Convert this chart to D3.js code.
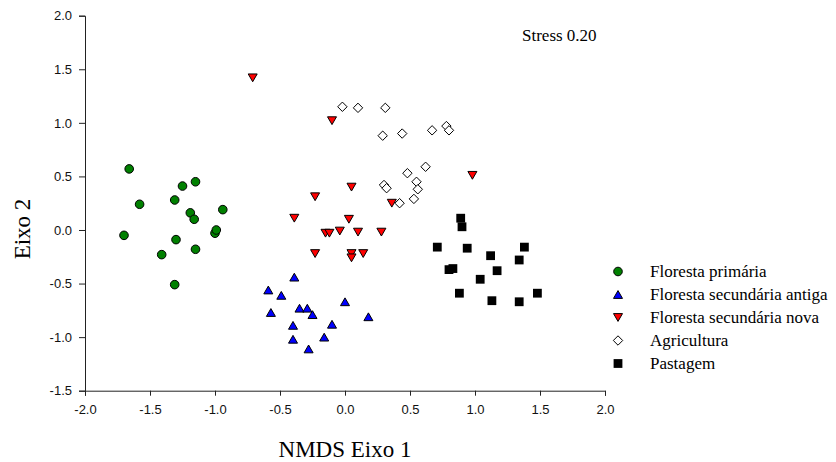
<!DOCTYPE html>
<html>
<head>
<meta charset="utf-8">
<script src="https://cdn.jsdelivr.net/npm/d3@7"></script>
<style>
  body { margin: 0; background: #fff; }
  svg { display: block; }
</style>
</head>
<body>
<div id="nmds"></div>
<script>
// NMDS scores (eixo 1, eixo 2) per land-use class
const florestaPrimaria = [
  [-1.66, 0.57], [-1.25, 0.41], [-1.15, 0.45], [-1.58, 0.24], [-1.31, 0.28],
  [-1.19, 0.16], [-1.16, 0.10], [-0.94, 0.19], [-1.70, -0.05], [-1.30, -0.09],
  [-1.00, -0.03], [-0.99, 0.00], [-1.15, -0.18], [-1.41, -0.23], [-1.31, -0.51]
];
const secundariaAntiga = [
  [-0.39, -0.44], [-0.59, -0.56], [-0.49, -0.61], [-0.57, -0.77], [-0.35, -0.73],
  [-0.29, -0.73], [-0.25, -0.79], [0.00, -0.67], [0.18, -0.81], [-0.40, -0.89],
  [-0.10, -0.88], [-0.40, -1.02], [-0.16, -1.00], [-0.28, -1.11]
];
const secundariaNova = [
  [-0.71, 1.42], [-0.10, 1.02], [0.05, 0.40], [-0.23, 0.31], [0.36, 0.25],
  [0.98, 0.51], [-0.39, 0.11], [0.03, 0.10], [-0.15, -0.03], [-0.12, -0.03],
  [-0.04, -0.01], [0.10, -0.02], [0.28, -0.02], [-0.23, -0.22], [0.05, -0.22],
  [0.05, -0.26], [0.14, -0.22]
];
const agricultura = [
  [-0.02, 1.15], [0.10, 1.14], [0.31, 1.14], [0.29, 0.88], [0.44, 0.90],
  [0.67, 0.93], [0.78, 0.97], [0.80, 0.93], [0.62, 0.59], [0.48, 0.53],
  [0.55, 0.45], [0.56, 0.38], [0.30, 0.42], [0.32, 0.39], [0.53, 0.29],
  [0.42, 0.25]
];
const pastagem = [
  [0.89, 0.11], [0.90, 0.03], [0.71, -0.16], [0.94, -0.17], [1.38, -0.16],
  [1.12, -0.24], [1.34, -0.28], [0.80, -0.37], [0.83, -0.36], [1.17, -0.38],
  [1.04, -0.46], [0.88, -0.59], [1.48, -0.59], [1.13, -0.66], [1.34, -0.67]
];

const groupNames = [
  'Floresta primária',
  'Floresta secundária antiga',
  'Floresta secundária nova',
  'Agricultura',
  'Pastagem'
];
const groupValues = [florestaPrimaria, secundariaAntiga, secundariaNova, agricultura, pastagem];

const xTicks = [-2.0, -1.5, -1.0, -0.5, 0.0, 0.5, 1.0, 1.5, 2.0];
const yTicks = [-1.5, -1.0, -0.5, 0.0, 0.5, 1.0, 1.5, 2.0];
const stressLabel = 'Stress 0.20';

// marker look for each group, same order as groupNames
const groupStyles = [
  { shape: 'circle', fill: '#008000' },
  { shape: 'up', fill: '#0000ff' },
  { shape: 'down', fill: '#ff0000' },
  { shape: 'diamond', fill: '#ffffff' },
  { shape: 'square', fill: '#000000' }
];

const width = 836;
const height = 462;

function markerPath(shape) {
  switch (shape) {
    case 'circle': {
      const r = 4.3;
      return `M${-r},0A${r},${r} 0 1,0 ${r},0A${r},${r} 0 1,0 ${-r},0Z`;
    }
    case 'up':
      return 'M0,-3.9L4.5,3.9L-4.5,3.9Z';
    case 'down':
      return 'M0,3.9L4.5,-3.9L-4.5,-3.9Z';
    case 'diamond':
      return 'M0,-4.7L4.7,0L0,4.7L-4.7,0Z';
    default:
      return 'M-4.4,-4.4H4.4V4.4H-4.4Z';
  }
}

const svg = d3.select('#nmds')
  .append('svg')
  .attr('width', width)
  .attr('height', height);

const x = d3.scaleLinear().domain([-2, 2]).range([85, 605]);
const y = d3.scaleLinear().domain([-1.5, 2]).range([390.7, 15.7]);

const fmt = d => d.toFixed(1);

// axes
const xAxis = svg.append('g')
  .attr('transform', `translate(0,${y(-1.5)})`)
  .call(d3.axisBottom(x).tickValues(xTicks).tickFormat(fmt).tickSizeOuter(0).tickSize(5).tickPadding(9));

const yAxis = svg.append('g')
  .attr('transform', `translate(${x(-2)},0)`)
  .call(d3.axisLeft(y).tickValues(yTicks).tickFormat(fmt).tickSizeOuter(0).tickSize(6).tickPadding(7));

[xAxis, yAxis].forEach(a => {
  a.select('.domain').attr('stroke', '#222');
  a.selectAll('.tick line').attr('stroke', '#222');
  a.selectAll('.tick text')
    .attr('fill', '#111')
    .style('font-family', '"Liberation Sans", Arial, sans-serif')
    .style('font-size', '13px');
});

// points
groupValues.forEach((values, i) => {
  const st = groupStyles[i];
  svg.append('g')
    .selectAll('path')
    .data(values)
    .enter().append('path')
    .attr('d', markerPath(st.shape))
    .attr('transform', d => `translate(${x(d[0])},${y(d[1])})`)
    .attr('fill', st.fill)
    .attr('stroke', '#000')
    .attr('stroke-width', st.shape === 'square' ? 0 : 1);
});

// titles
svg.append('text')
  .attr('x', x(0))
  .attr('y', 457)
  .attr('text-anchor', 'middle')
  .style('font-family', '"Liberation Serif", "Times New Roman", serif')
  .style('font-size', '23px')
  .text('NMDS Eixo 1');

svg.append('text')
  .attr('transform', 'translate(30,229) rotate(-90)')
  .attr('text-anchor', 'middle')
  .style('font-family', '"Liberation Serif", "Times New Roman", serif')
  .style('font-size', '23px')
  .text('Eixo 2');

svg.append('text')
  .attr('x', 522)
  .attr('y', 41)
  .style('font-family', '"Liberation Serif", "Times New Roman", serif')
  .style('font-size', '17px')
  .text(stressLabel);

// legend
const legend = svg.append('g')
  .attr('transform', 'translate(618,271.5)');

const legendItem = legend.selectAll('g')
  .data(groupNames)
  .enter().append('g')
  .attr('transform', (d, i) => `translate(0,${i * 23})`);

legendItem.append('path')
  .attr('d', (d, i) => markerPath(groupStyles[i].shape))
  .attr('fill', (d, i) => groupStyles[i].fill)
  .attr('stroke', '#000')
  .attr('stroke-width', (d, i) => groupStyles[i].shape === 'square' ? 0 : 1);

legendItem.append('text')
  .attr('x', 32)
  .attr('y', 5.5)
  .style('font-family', '"Liberation Serif", "Times New Roman", serif')
  .style('font-size', '17px')
  .text(d => d);
</script>
</body>
</html>
